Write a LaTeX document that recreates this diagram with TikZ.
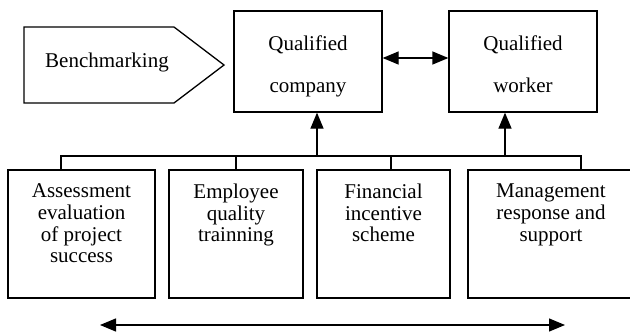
\documentclass[tikz,border=0pt]{standalone}
\usepackage{fontspec}
\setmainfont{Liberation Serif}
\usetikzlibrary{arrows.meta,positioning}

\begin{document}
\begin{tikzpicture}[x=1pt,y=-1pt,line width=1.3pt,
    goal/.style={draw,rectangle,minimum width=148pt,minimum height=101pt},
    factor/.style={draw,rectangle,minimum height=128pt},
    goaltext/.style={align=center,inner sep=0pt,font=\fontsize{21}{42}\selectfont},
    factortext/.style={align=center,inner sep=0pt,font=\fontsize{21}{21.7}\selectfont},
    tip/.style={-{Triangle[length=16pt,width=13pt]}},
    twotips/.style={{Triangle[length=16pt,width=13pt]}-{Triangle[length=16pt,width=13pt]}}]
  \useasboundingbox (0,0) rectangle (630,335);

  \draw (24,27) -- (174,27) -- (224,65) -- (174,103) -- (24,103) -- cycle;
  \node[inner sep=0pt,anchor=base,font=\fontsize{21}{25}\selectfont] (bench) at (107,67) {Benchmarking};

  \node[goal] (company) at (308,61.5) {};
  \node[goal] (worker) at (523,61.5) {};
  \node[goaltext,below=24.5pt of company.north] (companytext) {Qualified\\company};
  \node[goaltext,below=24.5pt of worker.north] (workertext) {Qualified\\worker};
  \draw[twotips] ([yshift=3.5pt]company.east) -- ([yshift=3.5pt]worker.west);

  \node[factor,minimum width=147pt] (assess) at (81.5,234) {};
  \node[factor,minimum width=134pt] (train) at (236,234) {};
  \node[factor,minimum width=133pt] (finance) at (383.5,234) {};
  \node[factor,minimum width=166pt] (manage) at (551,234) {};
  \node[factortext,below=14pt of assess.north] (assesstext) {Assessment\\evaluation\\of project\\success};
  \node[factortext,below=14pt of train.north] (traintext) {Employee\\quality\\trainning};
  \node[factortext,below=14pt of finance.north] (financetext) {Financial\\incentive\\scheme};
  \node[factortext,below=14pt of manage.north] (managetext) {Management\\response and\\support};

  \coordinate (bus west) at (61,156);
  \coordinate (bus east) at (581,156);
  \draw (bus west |- assess.north) -- (bus west) -- (bus east) -- (bus east |- manage.north);
  \draw (train.north) -- (train.north |- bus west);
  \draw ([xshift=7.5pt]finance.north) -- ([xshift=7.5pt]finance.north |- bus west);

  \coordinate (up company) at (317,156);
  \coordinate (up worker) at (505,156);
  \draw[tip] (up company) -- (up company |- company.south);
  \draw[tip] (up worker) -- (up worker |- worker.south);

  \coordinate (span west) at (100,325);
  \coordinate (span east) at (565,325);
  \draw[twotips] (span west) -- (span east);
\end{tikzpicture}
\end{document}
